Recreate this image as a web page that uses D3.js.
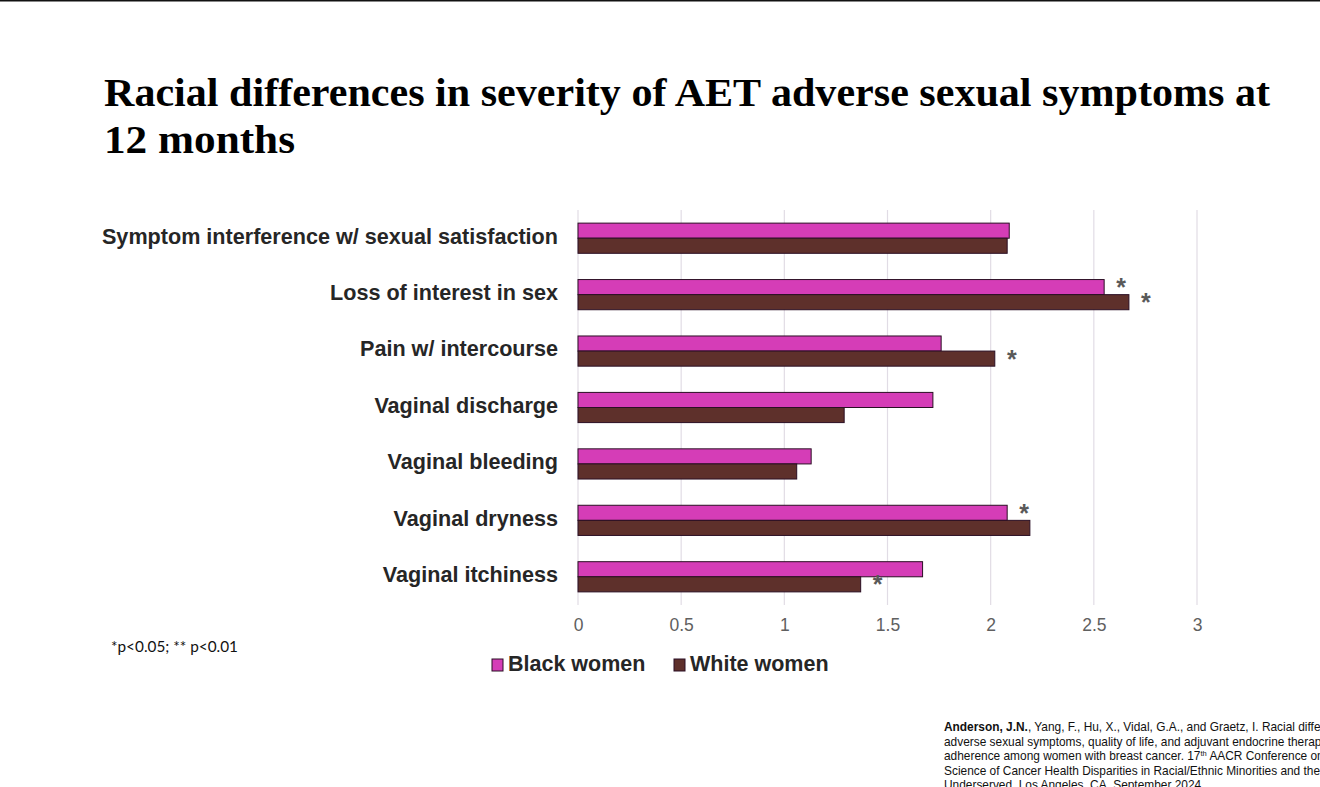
<!DOCTYPE html>
<html>
<head>
<meta charset="utf-8">
<script src="https://cdn.jsdelivr.net/npm/d3@7"></script>
<style>
  html, body { margin: 0; padding: 0; background: #fff; }
  svg { display: block; }
</style>
</head>
<body>
<div id="chart"></div>
<script>
// ---- data ----
const categories = [
  "Symptom interference w/ sexual satisfaction",
  "Loss of interest in sex",
  "Pain w/ intercourse",
  "Vaginal discharge",
  "Vaginal bleeding",
  "Vaginal dryness",
  "Vaginal itchiness"
];
const seriesNames = ["Black women", "White women"];
const blackWomen = [2.09, 2.55, 1.76, 1.72, 1.13, 2.08, 1.67];
const whiteWomen = [2.08, 2.67, 2.02, 1.29, 1.06, 2.19, 1.37];
const blackSig = [false, true, false, false, false, true, false];
const whiteSig = [false, true, true, false, false, false, true];
const xTicks = [0, 0.5, 1, 1.5, 2, 2.5, 3];
const titleLines = [
  "Racial differences in severity of AET adverse sexual symptoms at",
  "12 months"
];
const footnote = "*p<0.05; ** p<0.01";

// ---- layout ----
const W = 1320, H = 787;
const colors = ["#D53DB7", "#5E302B"];
const svg = d3.select("#chart").append("svg").attr("width", W).attr("height", H);

svg.append("rect").attr("x", 0).attr("y", 0).attr("width", W).attr("height", H).attr("fill", "#fff");
svg.append("rect").attr("x", 0).attr("y", 0).attr("width", W).attr("height", 1.5).attr("fill", "#111");

// title
const titleWidths = [1166, 191];
svg.selectAll("text.title").data(titleLines).enter().append("text")
  .attr("class", "title")
  .attr("x", 104)
  .attr("y", (d, i) => 106 + i * 47)
  .attr("font-family", "'Liberation Serif', serif")
  .attr("font-weight", "bold")
  .attr("font-size", 39)
  .attr("fill", "#000")
  .attr("textLength", (d, i) => titleWidths[i])
  .attr("lengthAdjust", "spacingAndGlyphs")
  .text(d => d);

// scales
const plotLeft = 578, plotRight = 1197, plotTop = 210, plotBottom = 605;
const x = d3.scaleLinear().domain([0, 3]).range([plotLeft, plotRight]);
const y = d3.scaleBand().domain(categories).range([plotTop, plotBottom]).paddingInner(0.465).paddingOuter(0.2325);
const ySub = d3.scaleBand().domain(seriesNames).range([0, y.bandwidth()]);

// gridlines
svg.append("g").selectAll("line").data(xTicks).enter().append("line")
  .attr("x1", d => x(d)).attr("x2", d => x(d))
  .attr("y1", plotTop).attr("y2", plotBottom)
  .attr("stroke", "#e1dce5").attr("stroke-width", 1.2);

// x axis
const xAxis = d3.axisBottom(x).tickValues(xTicks).tickSize(0).tickPadding(0)
  .tickFormat(d => String(d));
const gx = svg.append("g").attr("transform", `translate(0,${plotBottom + 14})`).call(xAxis);
gx.select(".domain").remove();
gx.selectAll("text")
  .attr("font-family", "'Liberation Sans', Arial, sans-serif")
  .attr("font-size", 17.5)
  .attr("fill", "#606060")
  .attr("dy", "0.71em");

// y labels
const yAxis = d3.axisLeft(y).tickSize(0).tickPadding(0);
const gy = svg.append("g").attr("transform", `translate(${plotLeft - 20},0)`).call(yAxis);
gy.select(".domain").remove();
gy.selectAll("text")
  .attr("font-family", "'Liberation Sans', Arial, sans-serif")
  .attr("font-weight", "bold")
  .attr("font-size", 21.6)
  .attr("fill", "#262626")
  .attr("dy", "0.25em");

// bars
const rows = categories.map((c, i) => ({
  cat: c,
  vals: [
    { s: seriesNames[0], v: blackWomen[i], sig: blackSig[i], k: 0 },
    { s: seriesNames[1], v: whiteWomen[i], sig: whiteSig[i], k: 1 }
  ]
}));
const g = svg.append("g").selectAll("g").data(rows).enter().append("g")
  .attr("transform", d => `translate(0,${y(d.cat)})`);
g.selectAll("rect").data(d => d.vals).enter().append("rect")
  .attr("x", x(0))
  .attr("y", d => ySub(d.s))
  .attr("width", d => x(d.v) - x(0))
  .attr("height", ySub.bandwidth())
  .attr("fill", d => colors[d.k])
  .attr("stroke", "#2b0f24")
  .attr("stroke-width", 1);

// significance stars
g.selectAll("text.star").data(d => d.vals.filter(v => v.sig)).enter().append("text")
  .attr("class", "star")
  .attr("x", d => x(d.v) + 17)
  .attr("y", d => ySub(d.s) + ySub.bandwidth() / 2 - 5 + 14)
  .attr("text-anchor", "middle")
  .attr("font-family", "'Liberation Sans', Arial, sans-serif")
  .attr("font-weight", "bold")
  .attr("font-size", 25)
  .attr("fill", "#595959")
  .text("*");

// footnote
svg.append("text")
  .attr("x", 111).attr("y", 652)
  .attr("font-family", "Lato, 'Open Sans', sans-serif")
  .attr("font-size", 14.5)
  .attr("fill", "#111")
  .attr("textLength", 127)
  .attr("lengthAdjust", "spacingAndGlyphs")
  .text(footnote);

// legend
const legendX = [492, 674];
const lg = svg.append("g").selectAll("g").data(seriesNames).enter().append("g")
  .attr("transform", (d, i) => `translate(${legendX[i]},659)`);
lg.append("rect").attr("x", 0).attr("y", 0).attr("width", 11).attr("height", 12)
  .attr("fill", (d, i) => colors[i]).attr("stroke", "#2b0f24").attr("stroke-width", 1);
lg.append("text").attr("x", 16).attr("y", 12)
  .attr("font-family", "'Liberation Sans', Arial, sans-serif")
  .attr("font-weight", "bold")
  .attr("font-size", 21.5)
  .attr("fill", "#262626")
  .text(d => d);

// citation
const cite = svg.append("g")
  .attr("font-family", "'Liberation Sans', Arial, sans-serif")
  .attr("font-size", 11.9)
  .attr("fill", "#111");
const c1 = cite.append("text").attr("x", 944).attr("y", 731);
c1.append("tspan").attr("font-weight", "bold").text("Anderson, J.N.");
c1.append("tspan").text(", Yang, F., Hu, X., Vidal, G.A., and Graetz, I. Racial differences in severity of AET");
cite.append("text").attr("x", 944).attr("y", 745.5).text("adverse sexual symptoms, quality of life, and adjuvant endocrine therapy");
const c3 = cite.append("text").attr("x", 944).attr("y", 760);
c3.append("tspan").text("adherence among women with breast cancer. 17");
c3.append("tspan").attr("font-size", 7.5).attr("dy", -4).text("th");
c3.append("tspan").attr("dy", 4).text(" AACR Conference on the");
cite.append("text").attr("x", 944).attr("y", 774.5).text("Science of Cancer Health Disparities in Racial/Ethnic Minorities and the Medically");
cite.append("text").attr("x", 944).attr("y", 789).text("Underserved, Los Angeles, CA, September 2024.");
</script>
</body>
</html>
